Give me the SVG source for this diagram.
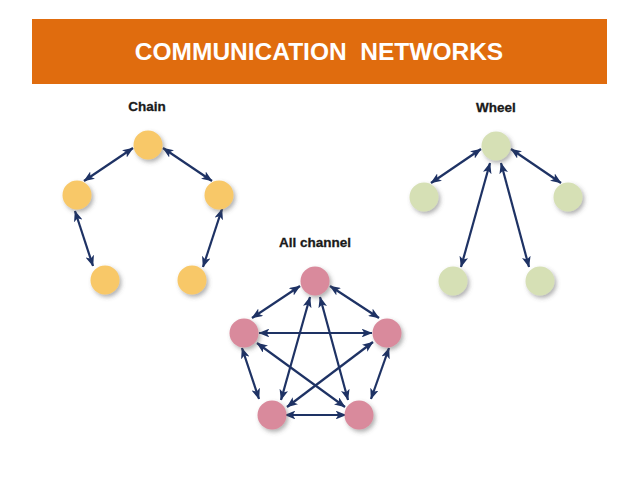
<svg xmlns="http://www.w3.org/2000/svg" width="638" height="479" viewBox="0 0 638 479">
<style>
.title{font-family:"Liberation Sans",Arial,sans-serif;font-weight:bold;font-size:24.5px;fill:#ffffff}
.lbl{font-family:"Liberation Sans",Arial,sans-serif;font-weight:bold;font-size:13.5px;fill:#1a1a1a;stroke:#1a1a1a;stroke-width:0.3}
.e line{stroke:#1e3264;stroke-width:2.2;marker-start:url(#ah);marker-end:url(#ah)}
.y{fill:#f8c868}
.g{fill:#d6e0b5}
.p{fill:#d98a9c}
</style>
<defs>
<marker id="ah" viewBox="0 0 10 8" refX="9.5" refY="4" markerWidth="11" markerHeight="8.8" markerUnits="userSpaceOnUse" orient="auto-start-reverse">
<path d="M0,0 L10,4 L0,8 L2.5,4 z" fill="#1e3264"/>
</marker>
<filter id="sh" x="-40%" y="-40%" width="190%" height="190%">
<feDropShadow dx="2" dy="2.5" stdDeviation="2" flood-color="#555" flood-opacity="0.45"/>
</filter>
</defs>
<rect width="638" height="479" fill="#ffffff"/>
<g id="header">
<rect x="32" y="19" width="575" height="65" fill="#e06c0e"/>
<text class="title" x="319" y="60" text-anchor="middle" xml:space="preserve">COMMUNICATION  NETWORKS</text>
</g>
<g id="labels">
<text class="lbl" x="147" y="111" text-anchor="middle">Chain</text>
<text class="lbl" x="496" y="112" text-anchor="middle">Wheel</text>
<text class="lbl" x="315" y="247" text-anchor="middle">All channel</text>
</g>
<g id="connectors" class="e">
<line x1="133" y1="148" x2="84" y2="181"/>
<line x1="163" y1="148" x2="212" y2="181"/>
<line x1="75" y1="211" x2="93" y2="266"/>
<line x1="222" y1="209" x2="203" y2="267"/>
<line x1="481" y1="149" x2="431" y2="183"/>
<line x1="511" y1="149" x2="561" y2="183"/>
<line x1="490" y1="163" x2="461" y2="267"/>
<line x1="501" y1="163" x2="529" y2="267"/>
<line x1="300" y1="286" x2="252" y2="318"/>
<line x1="330" y1="286" x2="379" y2="318"/>
<line x1="259" y1="333" x2="372" y2="333"/>
<line x1="242" y1="348" x2="259" y2="399"/>
<line x1="389" y1="348" x2="371" y2="399"/>
<line x1="285" y1="415" x2="346" y2="415"/>
<line x1="310" y1="297" x2="281" y2="400"/>
<line x1="320" y1="297" x2="348" y2="400"/>
<line x1="257" y1="343" x2="345" y2="407"/>
<line x1="373" y1="342" x2="287" y2="407"/>
</g>
<g id="chain-top"><circle class="y" cx="148" cy="145" r="14.5" filter="url(#sh)"/></g>
<g id="chain-left"><circle class="y" cx="77" cy="195" r="14.5" filter="url(#sh)"/></g>
<g id="chain-right"><circle class="y" cx="219" cy="195" r="14.5" filter="url(#sh)"/></g>
<g id="chain-bottom-left"><circle class="y" cx="105" cy="280" r="14.5" filter="url(#sh)"/></g>
<g id="chain-bottom-right"><circle class="y" cx="192" cy="280" r="14.5" filter="url(#sh)"/></g>
<g id="wheel-hub"><circle class="g" cx="496" cy="146" r="14.5" filter="url(#sh)"/></g>
<g id="wheel-left"><circle class="g" cx="424" cy="197" r="14.5" filter="url(#sh)"/></g>
<g id="wheel-right"><circle class="g" cx="568" cy="197" r="14.5" filter="url(#sh)"/></g>
<g id="wheel-bottom-left"><circle class="g" cx="453" cy="281" r="14.5" filter="url(#sh)"/></g>
<g id="wheel-bottom-right"><circle class="g" cx="540" cy="281" r="14.5" filter="url(#sh)"/></g>
<g id="all-top"><circle class="p" cx="315" cy="281" r="14.5" filter="url(#sh)"/></g>
<g id="all-left"><circle class="p" cx="244" cy="333" r="14.5" filter="url(#sh)"/></g>
<g id="all-right"><circle class="p" cx="387" cy="333" r="14.5" filter="url(#sh)"/></g>
<g id="all-bottom-left"><circle class="p" cx="272" cy="415" r="14.5" filter="url(#sh)"/></g>
<g id="all-bottom-right"><circle class="p" cx="359" cy="415" r="14.5" filter="url(#sh)"/></g>
</svg>
